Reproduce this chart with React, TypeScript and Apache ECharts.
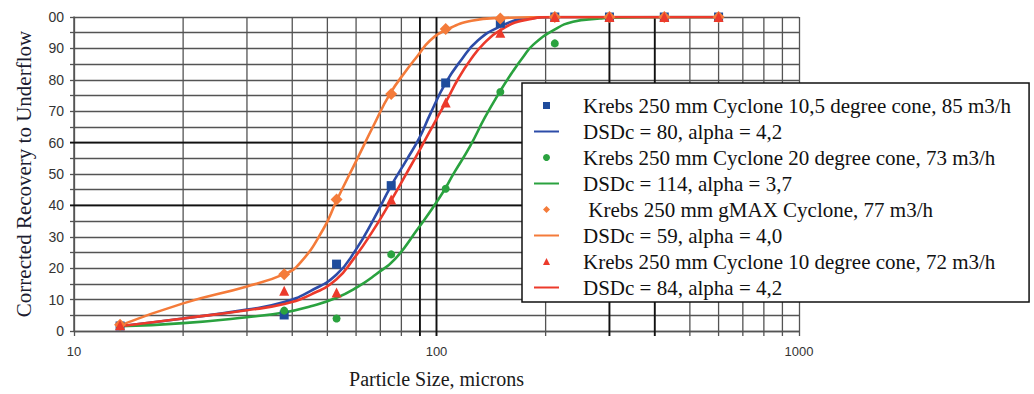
import React, { useEffect, useRef } from "react";
import * as echarts from "echarts";

// Sieve sizes (microns) at which the underflow recovery was measured
const sieveSizes = [13.4, 38, 53, 75, 106, 150, 212, 300, 425, 600];

// Measured corrected recovery to underflow (%)
const cone105Measured = [1.6, 5.1, 21.3, 46.3, 79.0, 98.0, 100, 100, 100, 100];
const cone20Measured = [1.5, 6.5, 4.0, 24.4, 45.3, 76.1, 91.6, 100, 100, 100];
const gmaxMeasured = [2.0, 18.1, 41.9, 75.5, 96.2, 99.5, 100, 100, 100, 100];
const cone10Measured = [1.8, 12.8, 12.3, 41.9, 72.8, 95.0, 100, 100, 100, 100];

// Fitted efficiency curves (size, recovery)
const fit80Sizes = [13.4, 20, 30, 38, 45, 53, 60, 67, 75, 82.8, 89.7, 96, 106, 117, 130, 150, 175, 212, 300, 425, 600];
const fit80Values = [1.5, 4.0, 6.8, 9.2, 12.8, 18.0, 26, 35.5, 46.3, 54.6, 61.5, 69, 79, 86.3, 92.5, 97, 99.4, 100, 100, 100, 100];

const fit114Sizes = [13.4, 20, 30, 38, 45, 52.8, 60.3, 68, 76.8, 88.1, 102, 112, 123.7, 136, 149.3, 162, 174, 185, 211, 238, 282, 300, 425, 600];
const fit114Values = [1.5, 2.5, 4.4, 5.9, 7.9, 10.5, 13.9, 18, 22.9, 32.0, 42.5, 50.5, 58.8, 68, 76.1, 82.5, 87.5, 91.2, 95.9, 98.5, 99.5, 99.8, 100, 100];

const fit59Sizes = [13.4, 20, 30, 38, 42, 48.7, 53, 60.3, 66.9, 74.4, 82.8, 88.5, 96, 106, 125, 150, 212, 300, 425, 600];
const fit59Values = [1.8, 8.8, 14.2, 18.1, 21.6, 32.4, 41.5, 54.6, 65.2, 75.5, 83.2, 87.5, 92.5, 95.8, 98.8, 99.7, 100, 100, 100, 100];

const fit84Sizes = [13.4, 20, 30, 38, 45, 53, 59, 66, 74.4, 82, 90, 100, 106, 115, 124, 135, 150, 175, 212, 300, 425, 600];
const fit84Values = [1.5, 4.0, 6.6, 8.6, 11.6, 16.5, 22.9, 31, 40.9, 49.5, 57.8, 67.5, 72.8, 80.5, 86.3, 91.5, 95.8, 99, 100, 100, 100, 100];

// Series names as shown in the legend
const seriesNames = [
  "Krebs 250 mm Cyclone 10,5 degree cone, 85 m3/h",
  "DSDc = 80, alpha = 4,2",
  "Krebs 250 mm Cyclone 20 degree cone, 73 m3/h",
  "DSDc = 114, alpha = 3,7",
  " Krebs 250 mm gMAX Cyclone, 77 m3/h",
  "DSDc = 59, alpha = 4,0",
  "Krebs 250 mm Cyclone 10 degree cone, 72 m3/h",
  "DSDc = 84, alpha = 4,2",
];

// Log-scale minor grid values and emphasised grid lines
const minorGridX = [20, 30, 40, 50, 60, 70, 80, 90, 200, 300, 400, 500, 600, 700, 800, 900];
const heavyGridX = [90, 100, 300, 400];
const heavyGridY = [40, 60];

const SERIF = '"Liberation Serif", "Times New Roman", serif';
const SANS = '"Liberation Sans Narrow", "Arial Narrow", "Liberation Sans", Arial, sans-serif';

const SQUARE = "path://M0,0L10,0L10,10L0,10Z";
const DIAMOND = "path://M5,0L10,5L5,10L0,5Z";
const TRIANGLE = "path://M5,0L10,10L0,10Z";

const GRID_COLOR = "#545454";
const HEAVY_COLOR = "#111111";

const BLUE = "#1f4c9c";
const GREEN = "#2aa23f";
const ORANGE = "#f47b3a";
const RED = "#ec3a2b";

const pairs = (xs: number[], ys: number[]) => xs.map((x, i) => [x, ys[i]]);

function scatter(name: string, values: number[], symbol: string, size: number, color: string) {
  return {
    name,
    type: "scatter",
    data: pairs(sieveSizes, values),
    symbol,
    symbolSize: size,
    symbolKeepAspect: true,
    itemStyle: { color, opacity: 1 },
    z: 4,
  };
}

function fit(name: string, xs: number[], ys: number[], color: string) {
  return {
    name,
    type: "line",
    data: pairs(xs, ys),
    smooth: 0.5,
    symbol: "none",
    showSymbol: false,
    lineStyle: { color, width: 2.6 },
    itemStyle: { color },
    z: 3,
  };
}

export default function App() {
  const ref = useRef<HTMLDivElement>(null);

  useEffect(() => {
    if (!ref.current) return;
    const chart = echarts.init(ref.current, undefined, { renderer: "svg" });

    const verticalGrid = (stroke: string, width: number) => (params: any, api: any) => {
      const v = api.value(0);
      const bottom = api.coord([v, 0]);
      const top = api.coord([v, 100]);
      return {
        type: "line",
        shape: { x1: bottom[0], y1: bottom[1] + 5, x2: top[0], y2: top[1] },
        style: { stroke, lineWidth: width },
        silent: true,
      };
    };

    const horizontalGrid = (params: any, api: any) => {
      const v = api.value(1);
      const left = api.coord([10, v]);
      const right = api.coord([1000, v]);
      return {
        type: "line",
        shape: { x1: left[0] - 4, y1: left[1], x2: right[0], y2: right[1] },
        style: { stroke: HEAVY_COLOR, lineWidth: 1.8 },
        silent: true,
      };
    };

    chart.setOption({
      animation: false,
      backgroundColor: "#ffffff",
      grid: { left: 74, right: 235, top: 17, bottom: 62, containLabel: false },
      xAxis: {
        type: "log",
        logBase: 10,
        min: 10,
        max: 1000,
        name: "Particle Size, microns",
        nameLocation: "middle",
        nameGap: 38,
        nameTextStyle: { fontFamily: SERIF, fontSize: 20, color: "#1a1a1a" },
        axisLine: { show: true, lineStyle: { color: GRID_COLOR, width: 1.3 } },
        axisTick: { show: true, length: 5, lineStyle: { color: GRID_COLOR, width: 1.3 } },
        axisLabel: {
          fontFamily: SANS,
          fontSize: 13,
          color: "#333333",
          margin: 14,
          formatter: (v: number) => String(v),
        },
        splitLine: { show: true, lineStyle: { color: GRID_COLOR, width: 1.3 } },
      },
      yAxis: {
        type: "value",
        min: 0,
        max: 100,
        interval: 5,
        name: "Corrected Recovery to Underflow",
        nameLocation: "middle",
        nameGap: 40,
        nameTextStyle: { fontFamily: SERIF, fontSize: 21, color: "#1c1c30" },
        axisLine: { show: true, lineStyle: { color: GRID_COLOR, width: 1.5 } },
        axisTick: { show: true, length: 4, lineStyle: { color: GRID_COLOR, width: 1.3 } },
        axisLabel: {
          fontFamily: SANS,
          fontSize: 14,
          color: "#333333",
          margin: 10,
          formatter: (v: number) => (v % 10 !== 0 ? "" : v === 100 ? "00" : String(v)),
        },
        splitLine: { show: true, lineStyle: { color: GRID_COLOR, width: 1.3 } },
      },
      legend: {
        orient: "vertical",
        left: 522,
        top: 83,
        selectedMode: false,
        itemWidth: 25,
        itemHeight: 7,
        itemGap: 5,
        padding: [12, 18, 4, 11],
        borderColor: "#111111",
        borderWidth: 1.5,
        backgroundColor: "#ffffff",
        textStyle: { fontFamily: SERIF, fontSize: 21, color: "#111111", padding: [0, 0, 0, 19] },
        data: seriesNames.map((name, i) =>
          i % 2 === 1 ? { name, itemStyle: { opacity: 0, borderWidth: 0 } } : { name }
        ),
      },
      series: [
        {
          name: "minor-grid",
          type: "custom",
          silent: true,
          z: 1,
          clip: false,
          data: minorGridX.map((v) => [v, 0]),
          encode: { x: 0, y: 1 },
          renderItem: verticalGrid(GRID_COLOR, 1.3),
        },
        {
          name: "heavy-grid-x",
          type: "custom",
          silent: true,
          z: 1,
          clip: false,
          data: heavyGridX.map((v) => [v, 0]),
          encode: { x: 0, y: 1 },
          renderItem: verticalGrid(HEAVY_COLOR, 1.8),
        },
        {
          name: "heavy-grid-y",
          type: "custom",
          silent: true,
          z: 1,
          clip: false,
          data: heavyGridY.map((v) => [10, v]),
          encode: { x: 0, y: 1 },
          renderItem: horizontalGrid,
        },
        scatter(seriesNames[0], cone105Measured, SQUARE, 9, BLUE),
        fit(seriesNames[1], fit80Sizes, fit80Values, "#2d4ca8"),
        scatter(seriesNames[2], cone20Measured, "circle", 8, GREEN),
        fit(seriesNames[3], fit114Sizes, fit114Values, GREEN),
        scatter(seriesNames[4], gmaxMeasured, DIAMOND, 12, ORANGE),
        fit(seriesNames[5], fit59Sizes, fit59Values, ORANGE),
        scatter(seriesNames[6], cone10Measured, TRIANGLE, 10, RED),
        fit(seriesNames[7], fit84Sizes, fit84Values, RED),
      ],
    });

    return () => chart.dispose();
  }, []);

  return (
    <div
      ref={ref}
      style={{ position: "fixed", left: 0, top: 0, width: 1034, height: 394, background: "#fff" }}
    />
  );
}
